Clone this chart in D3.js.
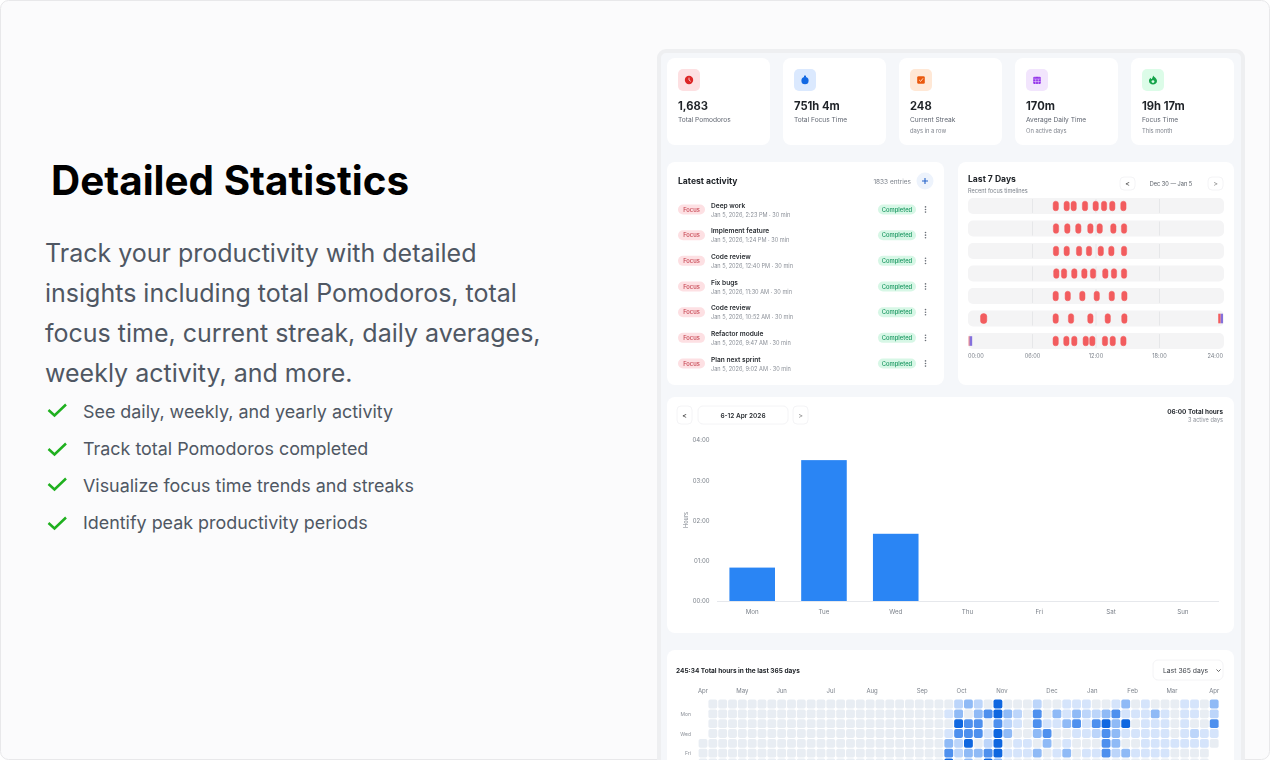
<!DOCTYPE html>
<meta charset="utf-8">

<style>
  body {
    margin: 0px;
    background: #fff;
    overflow: hidden;
  }

  svg {
    display: block;
  }

  text {
    font-family: Inter, "Noto Sans", sans-serif;
  }
</style>

<script src="https://d3js.org/d3.v7.min.js"></script>

<body>
  <svg id="chart" width="1270" height="760"></svg>
</body>

<script>
// left column copy
const headline = 'Detailed Statistics';
const paragraph = [
  'Track your productivity with detailed',
  'insights including total Pomodoros, total',
  'focus time, current streak, daily averages,',
  'weekly activity, and more.'
];
const checklist = [
  'See daily, weekly, and yearly activity',
  'Track total Pomodoros completed',
  'Visualize focus time trends and streaks',
  'Identify peak productivity periods'
];

// stat cards
const statValues = ['1,683', '751h 4m', '248', '170m', '19h 17m'];
const statLabels = ['Total Pomodoros', 'Total Focus Time', 'Current Streak', 'Average Daily Time', 'Focus Time'];
const statNotes = ['', '', 'days in a row', 'On active days', 'This month'];
const statTints = ['#fde0e2', '#dbe9fe', '#ffe8d6', '#f2e5fd', '#dcfce8'];
const statInks = ['#dc2626', '#1268e3', '#ea580c', '#9333ea', '#15a34a'];

// latest activity list
const activityTitles = ['Deep work', 'Implement feature', 'Code review', 'Fix bugs', 'Code review', 'Refactor module', 'Plan next sprint'];
const activityTimes = ['2:23 PM', '1:24 PM', '12:40 PM', '11:30 AM', '10:52 AM', '9:47 AM', '9:02 AM'];

// last 7 days, start hour of each focus session per row
const timelineStarts = [
  [7.95, 8.98, 9.64, 10.71, 11.72, 12.51, 13.29, 14.34],
  [7.97, 9.04, 10.08, 11.22, 12.10, 13.39, 14.40],
  [7.97, 8.98, 10.15, 11.09, 12.20, 13.20, 14.40],
  [8.00, 8.73, 9.70, 10.65, 11.47, 12.63, 13.45, 14.40],
  [7.94, 9.08, 10.46, 11.82, 13.24, 14.43],
  [1.09, 1.18, 7.94, 9.39, 11.22, 12.86, 14.43],
  [7.94, 8.95, 9.70, 10.78, 11.40, 12.60, 13.33, 14.34]
];
// the slivers at midnight: [row, start hour, end hour]
const timelineRedEnds = [[5, 23.55, 23.78], [6, -0.03, 0.06]];
const timelineBreaks = [[5, 23.78, 24], [6, 0.06, 0.3]];
const timelineTicks = ['00:00', '06:00', '12:00', '18:00', '24:00'];

// weekly bars
const weekDays = ['Mon', 'Tue', 'Wed', 'Thu', 'Fri', 'Sat', 'Sun'];
const weekHours = [0.83, 3.5, 1.67, 0, 0, 0, 0];
const hourTicks = ['00:00', '01:00', '02:00', '03:00', '04:00'];

// year heatmap, one string per weekday row, one digit per week, '.' is no cell
const heatRows = [
  '.0000000000000000000000000' + '2320500020011' + '10013010001103',
  '.0000000000000000000000001' + '3034532040313' + '22341113101102',
  '.0000000000000000000000000' + '5440421041134' + '14535011101004',
  '.0000000000000000000000001' + '4441530034001' + '12431111101211',
  '00000000000000000000000003' + '2502501103010' + '00430011111110',
  '00000000000000000000000004' + '2334511130130' + '1142311110000.',
  '00000000000000000000000005' + '0305300000000' + '0000000000000.'
];
const heatDays = ['', 'Mon', '', 'Wed', '', 'Fri', ''];
const heatMonths = ['Apr', 'May', 'Jun', 'Jul', 'Aug', 'Sep', 'Oct', 'Nov', 'Dec', 'Jan', 'Feb', 'Mar', 'Apr'];
const heatMonthWeeks = [0, 4, 8, 13, 17.2, 22.3, 26.3, 30.4, 35.5, 39.6, 43.7, 47.7, 52];
const heatColors = ['#e8edf3', '#d5e4fb', '#bcd5fa', '#8fbaf6', '#4e90ee', '#0f67e0'];

const root = d3.select('#chart');

// page and panel
root.append('rect')
    .attr('x', 0.5).attr('y', 0.5)
    .attr('width', 1269).attr('height', 759)
    .attr('rx', 8)
    .attr('fill', '#fbfbfc')
    .attr('stroke', '#e8e8ea');

root.append('rect')
    .attr('x', 659).attr('y', 51)
    .attr('width', 584).attr('height', 730)
    .attr('rx', 7)
    .attr('fill', '#f5f7fa')
    .attr('stroke', '#eeeff1')
    .attr('stroke-width', 4);

// left column
root.append('text')
    .attr('x', 51)
    .attr('y', 195)
    .attr('font-size', 40.4)
    .attr('font-weight', 700)
    .attr('fill', '#000')
    .text(headline);

root.selectAll('.para')
    .data(paragraph)
  .enter().append('text')
    .attr('class', 'para')
    .attr('x', 45)
    .attr('y', function(d, i) { return 262 + i * 40; })
    .attr('font-size', 25)
    .attr('fill', '#4f5763')
    .text(function(d) { return d; });

root.selectAll('.item')
    .data(checklist)
  .enter().append('text')
    .attr('class', 'item')
    .attr('x', 83)
    .attr('y', function(d, i) { return 418 + i * 37; })
    .attr('font-size', 17.9)
    .attr('fill', '#4f5763')
    .text(function(d) { return d; });

const checkBottoms = [416, 455, 490, 529];
root.selectAll('.check')
    .data(checkBottoms)
  .enter().append('path')
    .attr('class', 'check')
    .attr('d', function(d) { return `M48.5 ${d - 6}L54.5 ${d - 0.5}L66 ${d - 11.5}`; })
    .attr('fill', 'none')
    .attr('stroke', '#1fb01f')
    .attr('stroke-width', 2.5);

// everything in the app screenshot is slightly soft
const svg = root.append('g').style('filter', 'blur(0.3px)');

function card(x, y, w, h, r = 8) {
  return svg.append('rect')
      .attr('x', x).attr('y', y)
      .attr('width', w).attr('height', h)
      .attr('rx', r)
      .attr('fill', '#fff');
}

function label(str, x, y, size, fill, weight = 400, anchor = 'start') {
  return svg.append('text')
      .attr('x', x).attr('y', y)
      .attr('font-size', size)
      .attr('font-weight', weight)
      .attr('fill', fill)
      .attr('text-anchor', anchor)
      .text(str);
}

function navButton(x, y, w, h, str, fill) {
  svg.append('rect')
      .attr('x', x).attr('y', y).attr('width', w).attr('height', h).attr('rx', 4)
      .attr('fill', '#fff').attr('stroke', '#f4f4f6');
  label(str, x + w / 2, y + h / 2 + 2.5, 7, fill, 500, 'middle');
}

// stat cards
const statX = d3.scaleBand().domain(d3.range(5)).range([667, 1234]).paddingInner(0.112);

statValues.forEach(function(value, i) {
  const x = statX(i);
  card(x, 58, statX.bandwidth(), 87);
  svg.append('rect')
      .attr('x', x + 11).attr('y', 69)
      .attr('width', 22).attr('height', 22)
      .attr('rx', 5)
      .attr('fill', statTints[i]);
  drawIcon(i, x + 22, 80, statInks[i]);
  label(value, x + 11, 110, 11.2, '#1f2328', 700);
  label(statLabels[i], x + 11, 122, 6.6, '#5f6570');
  label(statNotes[i], x + 11, 132.5, 5.8, '#80858e');
});

function drawIcon(i, cx, cy, ink) {
  const g = svg.append('g').attr('transform', `translate(${cx},${cy})`);
  if (i === 0) {
    g.append('circle').attr('r', 4.2).attr('fill', ink);
    g.append('path').attr('d', 'M0 -2.4V0L1.8 1.4').attr('fill', 'none').attr('stroke', '#fde0e2').attr('stroke-width', 0.8);
  } else if (i === 1) {
    g.append('circle').attr('cy', 0.7).attr('r', 3.6).attr('fill', ink);
    g.append('path').attr('d', 'M-1 -4.4H1V-2.5H-1Z').attr('fill', ink);
  } else if (i === 2) {
    g.append('rect').attr('x', -3.8).attr('y', -3.8).attr('width', 7.6).attr('height', 7.6).attr('rx', 1.4).attr('fill', ink);
    g.append('path').attr('d', 'M-1.8 0L-0.4 1.4L2 -1.6').attr('fill', 'none').attr('stroke', '#ffe8d6').attr('stroke-width', 0.9);
  } else if (i === 3) {
    g.append('rect').attr('x', -3.8).attr('y', -3.2).attr('width', 7.6).attr('height', 7.2).attr('rx', 1.2).attr('fill', ink);
    g.append('path').attr('d', 'M-3.6 -1H3.6M-1.3 -1V4M1.3 -1V4M-3.6 1.5H3.6M-2 -4.4V-2.6M2 -4.4V-2.6').attr('stroke', '#f2e5fd').attr('stroke-width', 0.5);
  } else {
    g.append('path').attr('d', 'M0.4 -4.6C1 -2.8 4 -2 4 1C4 3.2 2.2 4.4 0 4.4C-2.2 4.4 -4 3.2 -4 1C-4 -0.6 -3 -1.6 -2.4 -2.2C-2.2 -1.2 -1.6 -0.9 -1.2 -0.9C-0.6 -2 -0.4 -3.4 0.4 -4.6Z').attr('fill', ink);
    g.append('circle').attr('cy', 1.6).attr('r', 1.4).attr('fill', '#dcfce8');
  }
}

// latest activity
card(667, 162, 277, 223);
label('Latest activity', 678, 184, 8.6, '#22262b', 700);
label('1833 entries', 911, 183.5, 6.5, '#7c828b', 400, 'end');
svg.append('circle').attr('cx', 925).attr('cy', 181).attr('r', 8.5).attr('fill', '#edf3fc');
svg.append('path').attr('d', 'M922 181H928M925 178V184').attr('stroke', '#2563c9').attr('stroke-width', 1.1);

activityTitles.forEach(function(title, i) {
  const cy = 209.5 + i * 25.67;
  svg.append('rect')
      .attr('x', 678).attr('y', cy - 5).attr('width', 27).attr('height', 10).attr('rx', 5)
      .attr('fill', '#fde0e3');
  label('Focus', 691.5, cy + 2, 5.8, '#c5424f', 500, 'middle');
  label(title, 711, cy - 2, 6.6, '#2a2e33', 600);
  label(`Jan 5, 2026, ${activityTimes[i]} · 30 min`, 711, cy + 7, 5.6, '#8b9098');
  svg.append('rect')
      .attr('x', 878).attr('y', cy - 5).attr('width', 38).attr('height', 10).attr('rx', 5)
      .attr('fill', '#d7f7e6');
  label('Completed', 897, cy + 2, 5.8, '#17965f', 500, 'middle');
  svg.selectAll(null)
      .data([-2.6, 0, 2.6])
    .enter().append('circle')
      .attr('cx', 925.5)
      .attr('cy', function(d) { return cy + d; })
      .attr('r', 0.8)
      .attr('fill', '#6b7078');
});

// last 7 days
card(958, 162, 276, 223);
label('Last 7 Days', 968, 182, 8.6, '#22262b', 700);
label('Recent focus timelines', 968, 193, 5.6, '#7c828b');
navButton(1120, 177, 15, 13, '<', '#555');
label('Dec 30 — Jan 5', 1171, 186, 5.6, '#555b63', 400, 'middle');
navButton(1208, 177, 15, 13, '>', '#999');

const hourX = d3.scaleLinear().domain([0, 24]).range([969, 1223]);
const rowY = d3.scaleBand().domain(d3.range(7)).range([198, 349]).paddingInner(0.29);

const rows = svg.selectAll('.day')
    .data(timelineStarts)
  .enter().append('g')
    .attr('class', 'day')
    .attr('transform', function(d, i) { return `translate(0,${rowY(i)})`; });

rows.append('rect')
    .attr('x', 968)
    .attr('width', 256)
    .attr('height', rowY.bandwidth())
    .attr('rx', 5)
    .attr('fill', '#f4f4f5');

rows.selectAll('.grid')
    .data([6, 12, 18])
  .enter().append('line')
    .attr('class', 'grid')
    .attr('x1', function(d) { return hourX(d); })
    .attr('x2', function(d) { return hourX(d); })
    .attr('y1', 1)
    .attr('y2', rowY.bandwidth() - 1)
    .attr('stroke', '#e2e3e6')
    .attr('stroke-width', 0.8);

rows.selectAll('.session')
    .data(function(d) { return d; })
  .enter().append('rect')
    .attr('class', 'session')
    .attr('x', function(d) { return hourX(d); })
    .attr('y', rowY.bandwidth() / 2 - 4.8)
    .attr('width', hourX(0.5) - hourX(0))
    .attr('height', 9.6)
    .attr('rx', 2.6)
    .attr('fill', '#f25c5e')
    .attr('stroke', '#f25c5e')
    .attr('stroke-width', 0.5);

function slivers(cls, data, fill) {
  svg.selectAll('.' + cls)
      .data(data)
    .enter().append('rect')
      .attr('class', cls)
      .attr('x', function(d) { return hourX(d[1]); })
      .attr('y', function(d) { return rowY(d[0]) + rowY.bandwidth() / 2 - 4.8; })
      .attr('width', function(d) { return hourX(d[2]) - hourX(d[1]); })
      .attr('height', 9.6)
      .attr('fill', fill);
}
slivers('red-end', timelineRedEnds, '#f25c5e');
slivers('break', timelineBreaks, '#8470dc');

timelineTicks.forEach(function(t, i) {
  const anchor = i === 0 ? 'start' : i === 4 ? 'end' : 'middle';
  label(t, hourX(i * 6) + (i === 0 ? -1 : 0), 358, 5.6, '#7c828b', 400, anchor);
});

// weekly bars
card(667, 397, 567, 236);
navButton(677, 406, 15, 18, '<', '#444');
svg.append('rect')
    .attr('x', 698).attr('y', 406).attr('width', 90).attr('height', 18).attr('rx', 5)
    .attr('fill', '#fff').attr('stroke', '#f4f4f6');
label('6-12 Apr 2026', 743, 417.5, 6.5, '#2a2e33', 600, 'middle');
navButton(793, 406, 15, 18, '>', '#999');
label('06:00 Total hours', 1223, 413.5, 6.4, '#2a2e33', 700, 'end');
label('3 active days', 1223, 422, 5.6, '#8b9098', 400, 'end');

const dayX = d3.scaleBand().domain(weekDays).range([716.5, 1218.5]).paddingInner(0.365).paddingOuter(0.18);
const hourY = d3.scaleLinear().domain([0, 4]).range([601, 440]);

svg.selectAll('.bar')
    .data(weekHours.filter(function(d) { return d > 0; }))
  .enter().append('rect')
    .attr('class', 'bar')
    .attr('x', function(d, i) { return dayX(weekDays[i]); })
    .attr('y', function(d) { return hourY(d); })
    .attr('width', dayX.bandwidth())
    .attr('height', function(d) { return hourY(0) - hourY(d); })
    .attr('fill', '#2a85f4');

const yAxis = svg.append('g')
    .attr('transform', 'translate(716.5,0)')
    .call(d3.axisLeft(hourY).tickValues([0, 1, 2, 3, 4]).tickSize(0).tickPadding(7)
      .tickFormat(function(d) { return hourTicks[d]; }));
yAxis.select('.domain').remove();
yAxis.selectAll('text').attr('font-size', 6).attr('fill', '#7c828b').style('font-family', 'Inter');

const xAxis = svg.append('g')
    .attr('transform', 'translate(0,601)')
    .call(d3.axisBottom(dayX).tickSize(0).tickPadding(8.5));
xAxis.select('.domain').attr('stroke', '#e6e8ec');
xAxis.selectAll('text').attr('font-size', 6.2).attr('fill', '#7c828b').style('font-family', 'Inter');

svg.append('text')
    .attr('transform', 'translate(688,520) rotate(-90)')
    .attr('text-anchor', 'middle')
    .attr('font-size', 5.6)
    .attr('fill', '#7c828b')
    .text('Hours');

// year heatmap
card(667, 650, 567, 130);
label('245:34 Total hours in the last 365 days', 676, 673, 6.5, '#22262b', 700);
svg.append('rect')
    .attr('x', 1153).attr('y', 660).attr('width', 70).attr('height', 20).attr('rx', 5)
    .attr('fill', '#fff').attr('stroke', '#f4f4f6');
label('Last 365 days', 1163, 673, 6.8, '#3f444b');
svg.append('path').attr('d', 'M1216.5 669.5L1218.5 671.5L1220.5 669.5').attr('fill', 'none').attr('stroke', '#444').attr('stroke-width', 0.8);

const weekX = d3.scaleBand().domain(d3.range(53)).range([698.1, 1219.1]).paddingInner(0.1).paddingOuter(0.05);
const dayY = d3.scaleBand().domain(d3.range(7)).range([699.1, 767.9]).paddingInner(0.1).paddingOuter(0.05);
const heatFill = d3.scaleOrdinal().domain(d3.range(6)).range(heatColors);
const monthX = d3.scaleLinear().domain([0, 52]).range([weekX(0) + weekX.bandwidth() / 2, weekX(52) + weekX.bandwidth() / 2]);

svg.selectAll('.week-row')
    .data(heatRows)
  .enter().append('g')
    .attr('class', 'week-row')
    .attr('transform', function(d, i) { return `translate(0,${dayY(i)})`; })
  .selectAll('rect')
    .data(function(d) {
      return d.split('').map(function(c, i) { return {week: i, level: c}; })
        .filter(function(c) { return c.level !== '.'; });
    })
  .enter().append('rect')
    .attr('x', function(d) { return weekX(d.week); })
    .attr('width', weekX.bandwidth())
    .attr('height', dayY.bandwidth())
    .attr('rx', 1.8)
    .attr('fill', function(d) { return heatFill(+d.level); });

svg.selectAll('.month')
    .data(heatMonths)
  .enter().append('text')
    .attr('class', 'month')
    .attr('x', function(d, i) { return monthX(heatMonthWeeks[i]); })
    .attr('y', 692.5)
    .attr('text-anchor', 'middle')
    .attr('font-size', 6)
    .attr('fill', '#7c828b')
    .text(function(d) { return d; });

svg.selectAll('.weekday')
    .data(heatDays)
  .enter().append('text')
    .attr('class', 'weekday')
    .attr('x', 691)
    .attr('y', function(d, i) { return dayY(i) + dayY.bandwidth() / 2 + 2; })
    .attr('text-anchor', 'end')
    .attr('font-size', 5)
    .attr('fill', '#8b9098')
    .text(function(d) { return d; });
</script>
